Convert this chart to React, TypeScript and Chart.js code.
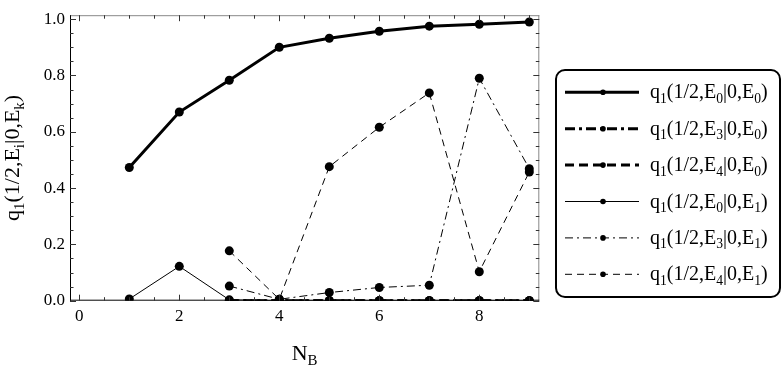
import { useEffect, useRef } from 'react';
import { Chart, registerables } from 'chart.js';
Chart.register(...registerables);

const nB = [1, 2, 3, 4, 5, 6, 7, 8, 9];
const sE0E0 = [0.473, 0.67, 0.783, 0.9, 0.932, 0.957, 0.975, 0.982, 0.99];
const sE3E0 = [null, null, 0, 0, 0, 0, 0, 0, 0];
const sE4E0 = [null, null, 0, 0, 0, 0, 0, 0, 0];
const sE0E1 = [0.006, 0.122, 0.003, 0, 0, 0, 0, 0, 0];
const sE3E1 = [null, null, 0.052, 0.005, 0.029, 0.047, 0.055, 0.79, 0.469];
const sE4E1 = [null, null, 0.177, 0.005, 0.476, 0.616, 0.738, 0.103, 0.457];

const seriesLabels = [
  'q_1(1/2,E_0|0,E_0)',
  'q_1(1/2,E_3|0,E_0)',
  'q_1(1/2,E_4|0,E_0)',
  'q_1(1/2,E_0|0,E_1)',
  'q_1(1/2,E_3|0,E_1)',
  'q_1(1/2,E_4|0,E_1)',
];
const yTitle = 'q_1(1/2,E_i|0,E_k)';
const xTitle = 'N_B';

const xTickLabels = [0, 2, 4, 6, 8];
const xMinorTicks = [0, 0.5, 1, 1.5, 2, 2.5, 3, 3.5, 4, 4.5, 5, 5.5, 6, 6.5, 7, 7.5, 8, 8.5, 9];
const yTickLabels = [0, 0.2, 0.4, 0.6, 0.8, 1.0];
const yMinorTicks = [0, 0.05, 0.1, 0.15, 0.2, 0.25, 0.3, 0.35, 0.4, 0.45, 0.5, 0.55, 0.6, 0.65, 0.7, 0.75, 0.8, 0.85, 0.9, 0.95, 1.0];

const FONT = "'Liberation Serif', 'DejaVu Serif', serif";

const styles = [
  { w: 3, dash: [] as number[] },
  { w: 3, dash: [10, 4, 3, 4] },
  { w: 3, dash: [9, 5] },
  { w: 1, dash: [] as number[] },
  { w: 1, dash: [8, 4, 2, 4] },
  { w: 1, dash: [7, 5] },
];

function parseRich(s: string) {
  const segs: { t: string; sub: boolean }[] = [];
  let buf = '';
  for (let i = 0; i < s.length; i++) {
    if (s[i] === '_' && i + 1 < s.length) {
      if (buf) segs.push({ t: buf, sub: false });
      buf = '';
      segs.push({ t: s[i + 1], sub: true });
      i++;
    } else buf += s[i];
  }
  if (buf) segs.push({ t: buf, sub: false });
  return segs;
}

function drawRich(ctx: CanvasRenderingContext2D, s: string, x: number, y: number, size: number, align: 'left' | 'center') {
  const segs = parseRich(s);
  const subSize = size * 0.68;
  let total = 0;
  const widths = segs.map((g) => {
    ctx.font = `${g.sub ? subSize : size}px ${FONT}`;
    const w = ctx.measureText(g.t).width;
    total += w;
    return w;
  });
  let cx = align === 'center' ? x - total / 2 : x;
  ctx.textAlign = 'left';
  ctx.textBaseline = 'alphabetic';
  segs.forEach((g, i) => {
    ctx.font = `${g.sub ? subSize : size}px ${FONT}`;
    ctx.fillText(g.t, cx, g.sub ? y + size * 0.22 : y);
    cx += widths[i];
  });
}

const framePlugin = {
  id: 'framePlugin',
  afterDraw(chart: any) {
    const ctx: CanvasRenderingContext2D = chart.ctx;
    const { left, right, top, bottom } = chart.chartArea;
    const xs = chart.scales.x;
    const ys = chart.scales.y;
    ctx.save();
    ctx.lineWidth = 1;
    ctx.strokeStyle = '#888';
    ctx.beginPath();
    ctx.moveTo(left, top + 0.5);
    ctx.lineTo(right, top + 0.5);
    ctx.moveTo(right - 0.5, top);
    ctx.lineTo(right - 0.5, bottom);
    ctx.stroke();
    ctx.strokeStyle = '#000';
    ctx.beginPath();
    ctx.moveTo(left + 0.5, top);
    ctx.lineTo(left + 0.5, bottom);
    ctx.moveTo(left, bottom - 0.5);
    ctx.lineTo(right, bottom - 0.5);
    ctx.stroke();
    ctx.strokeStyle = '#333';
    ctx.beginPath();
    xMinorTicks.forEach((v) => {
      const px = Math.round(xs.getPixelForValue(v)) + 0.5;
      const len = xTickLabels.includes(v) ? 6 : 3.5;
      ctx.moveTo(px, bottom);
      ctx.lineTo(px, bottom - len);
      ctx.moveTo(px, top);
      ctx.lineTo(px, top + len);
    });
    yMinorTicks.forEach((v) => {
      const py = Math.round(ys.getPixelForValue(v)) + 0.5;
      const len = yTickLabels.some((t) => Math.abs(t - v) < 1e-6) ? 6 : 3.5;
      ctx.moveTo(left, py);
      ctx.lineTo(left + len, py);
      ctx.moveTo(right, py);
      ctx.lineTo(right - len, py);
    });
    ctx.stroke();

    ctx.fillStyle = '#000';
    drawRich(ctx, xTitle, (left + right) / 2, 360, 22, 'center');
    ctx.save();
    ctx.translate(19, (top + bottom) / 2);
    ctx.rotate(-Math.PI / 2);
    drawRich(ctx, yTitle, 0, 0, 22, 'center');
    ctx.restore();

    const bx = 556, by = 70, bw = 224, bh = 227, r = 9;
    ctx.lineWidth = 2;
    ctx.strokeStyle = '#000';
    ctx.beginPath();
    ctx.moveTo(bx + r, by);
    ctx.lineTo(bx + bw - r, by);
    ctx.arcTo(bx + bw, by, bx + bw, by + r, r);
    ctx.lineTo(bx + bw, by + bh - r);
    ctx.arcTo(bx + bw, by + bh, bx + bw - r, by + bh, r);
    ctx.lineTo(bx + r, by + bh);
    ctx.arcTo(bx, by + bh, bx, by + bh - r, r);
    ctx.lineTo(bx, by + r);
    ctx.arcTo(bx, by, bx + r, by, r);
    ctx.closePath();
    ctx.stroke();

    chart.data.datasets.forEach((ds: any, i: number) => {
      const ry = 92.3 + i * 36.4;
      ctx.lineWidth = ds.borderWidth;
      ctx.setLineDash(ds.borderDash || []);
      ctx.beginPath();
      ctx.moveTo(565, ry);
      ctx.lineTo(639, ry);
      ctx.stroke();
      ctx.setLineDash([]);
      ctx.beginPath();
      ctx.arc(603, ry, 2.8, 0, Math.PI * 2);
      ctx.fill();
      drawRich(ctx, seriesLabels[i], 650, ry + 6, 20, 'left');
    });
    ctx.restore();
  },
};

export default function App() {
  const ref = useRef<HTMLCanvasElement>(null);
  useEffect(() => {
    if (!ref.current) return;
    const all = [sE0E0, sE3E0, sE4E0, sE0E1, sE3E1, sE4E1];
    const datasets = all.map((s, i) => ({
      label: seriesLabels[i].replace(/_/g, ''),
      data: nB.map((x, j) => ({ x, y: s[j] })).filter((p) => p.y !== null),
      borderColor: '#000',
      backgroundColor: '#000',
      borderWidth: styles[i].w,
      borderDash: styles[i].dash,
      pointRadius: 4.5,
      pointBorderWidth: 0,
      pointBackgroundColor: '#000',
      tension: 0,
      fill: false,
      clip: 0,
    }));
    const chart = new Chart(ref.current, {
      type: 'line',
      data: { datasets },
      options: {
        animation: false,
        responsive: true,
        maintainAspectRatio: false,
        layout: { padding: { top: 10, right: 243.7, left: 0, bottom: 0 } },
        plugins: { legend: { display: false }, tooltip: { enabled: false } },
        scales: {
          x: {
            type: 'linear',
            min: -0.186,
            max: 9.2,
            grid: { display: false, drawTicks: false },
            border: { display: false },
            afterBuildTicks: (scale: any) => {
              scale.ticks = xTickLabels.map((v) => ({ value: v }));
            },
            afterFit: (scale: any) => {
              scale.height = 68.3;
            },
            ticks: {
              padding: 6,
              color: '#000',
              font: { family: FONT, size: 17 },
              maxRotation: 0,
              callback: (v: any) => String(v),
            },
          },
          y: {
            type: 'linear',
            min: 0,
            max: 1.014,
            grid: { display: false, drawTicks: false },
            border: { display: false },
            afterBuildTicks: (scale: any) => {
              scale.ticks = yTickLabels.map((v) => ({ value: v }));
            },
            afterFit: (scale: any) => {
              scale.width = 70;
            },
            ticks: {
              padding: 5,
              color: '#000',
              font: { family: FONT, size: 17 },
              callback: (v: any) => Number(v).toFixed(1),
            },
          },
        },
      },
      plugins: [framePlugin],
    });
    return () => chart.destroy();
  }, []);
  return (
    <div style={{ position: 'fixed', left: 0, top: 0, width: 783, height: 369, background: '#fff' }}>
      <canvas ref={ref} />
    </div>
  );
}
